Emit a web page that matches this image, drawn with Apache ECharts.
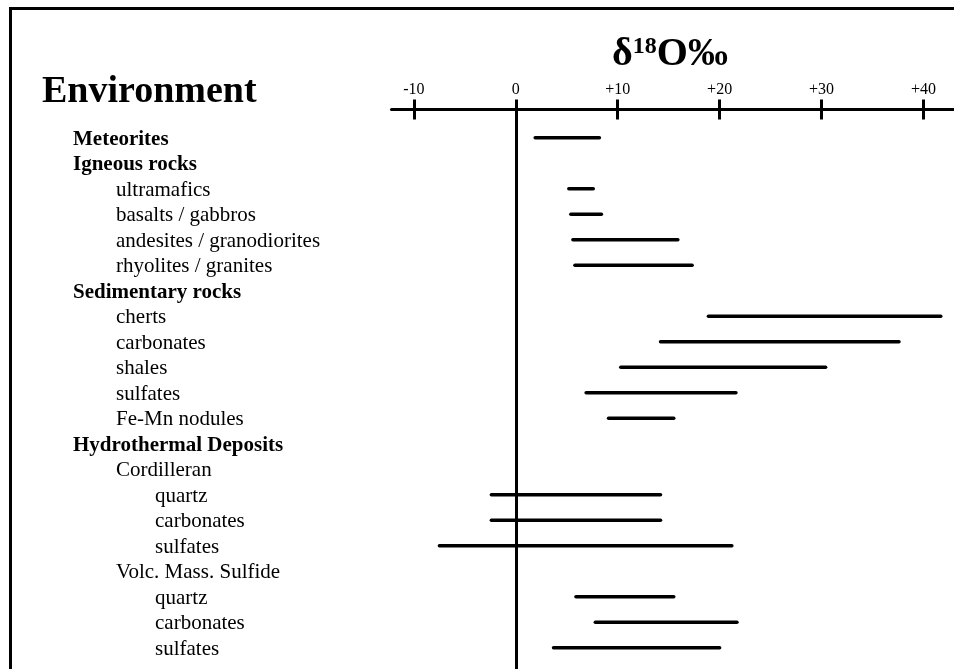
<!DOCTYPE html>
<html>
<head>
<meta charset="utf-8">
<script src="https://cdn.jsdelivr.net/npm/echarts@6/dist/echarts.min.js"></script>
<style>
html,body{margin:0;padding:0;background:#fff;}
#chart{width:954px;height:669px;}
</style>
</head>
<body>
<div id="chart"></div>
<script>
// ---- data ----
const categories = ['Meteorites','Igneous rocks','ultramafics','basalts / gabbros','andesites / granodiorites','rhyolites / granites','Sedimentary rocks','cherts','carbonates','shales','sulfates','Fe-Mn nodules','Hydrothermal Deposits','Cordilleran','quartz','carbonates','sulfates','Volc. Mass. Sulfide','quartz','carbonates','sulfates'];
const levels = [0,0,1,1,1,1,0,1,1,1,1,1,0,1,2,2,2,1,2,2,2];
const headings = [true,true,false,false,false,false,true,false,false,false,false,false,true,false,false,false,false,false,false,false,false];
const rangeLow  = [1.9, null, 5.2, 5.4, 5.6, 5.8, null, 18.9, 14.2, 10.3, 6.9, 9.1, null, null, -2.4, -2.4, -7.5, null, 5.9, 7.8, 3.7];
const rangeHigh = [8.2, null, 7.6, 8.4, 15.9, 17.3, null, 41.7, 37.6, 30.4, 21.6, 15.5, null, null, 14.2, 14.2, 21.2, null, 15.5, 21.7, 20.0];
const tickValues = [-10, 0, 10, 20, 30, 40];
const leftTitle = 'Environment';

// ---- build ----
const FONT = 'Liberation Serif';
const seriesData = [];
categories.forEach((c, i) => {
  if (rangeLow[i] !== null && rangeHigh[i] !== null) seriesData.push([rangeLow[i], rangeHigh[i], i]);
});
const rowIdx = categories.map((_, i) => i);

const chart = echarts.init(document.getElementById('chart'), null, {renderer: 'canvas'});
const option = {
  backgroundColor: '#fff',
  animation: false,
  grid: {left: 391.5, top: 109.5, width: 565, height: 559.5, containLabel: false},
  xAxis: [{
    type: 'value', position: 'top', min: -12.2, max: 43,
    axisLine: {show: true, onZero: false, lineStyle: {color: '#000', width: 3}},
    axisTick: {show: true, customValues: tickValues, length: 10, lineStyle: {color: '#000', width: 3}},
    axisLabel: {customValues: tickValues, color: '#000', fontFamily: FONT, fontSize: 16, margin: 12,
      formatter: v => (v > 0 ? '+' + v : String(v))},
    splitLine: {show: false}
  }, {
    type: 'value', position: 'top', min: -12.2, max: 43,
    axisLine: {show: false, onZero: false},
    axisTick: {show: true, inside: true, customValues: tickValues, length: 10, lineStyle: {color: '#000', width: 3}},
    axisLabel: {show: false},
    splitLine: {show: false}
  }],
  yAxis: {
    type: 'value', inverse: true, min: -1.106, max: 20.835,
    axisLine: {show: false, onZero: false}, axisTick: {show: false}, splitLine: {show: false},
    axisLabel: {
      customValues: rowIdx, align: 'left', margin: 319.5, color: '#000',
      formatter: v => {
        const i = Math.round(v);
        const key = headings[i] ? 'h' + levels[i] : 'r' + levels[i];
        return '{' + key + '|' + categories[i] + '}';
      },
      rich: {
        h0: {fontFamily: FONT, fontSize: 21, fontWeight: 'bold', color: '#000', padding: [3, 0, 0, 1]},
        r1: {fontFamily: FONT, fontSize: 21, color: '#000', padding: [3, 0, 0, 44]},
        r2: {fontFamily: FONT, fontSize: 21, color: '#000', padding: [3, 0, 0, 83]}
      }
    }
  },
  graphic: [
    {type: 'polyline', silent: true, shape: {points: [[10.5, 680], [10.5, 8.5], [970, 8.5]]},
     style: {stroke: '#000', lineWidth: 3, fill: null}},
    {type: 'text', x: 42, y: 92.5, silent: true,
     style: {text: leftTitle, font: 'bold 38px "Liberation Serif"', fill: '#000',
       align: 'left', textAlign: 'left', verticalAlign: 'middle', textVerticalAlign: 'middle'}},
    {type: 'text', x: 670, y: 55, silent: true,
     style: {text: '{a|δ}{b|18}{a|O‰}', fill: '#000',
       align: 'center', textAlign: 'center', verticalAlign: 'middle', textVerticalAlign: 'middle',
       rich: {
         a: {fontFamily: FONT, fontSize: 40, fontWeight: 'bold', fill: '#000', color: '#000'},
         b: {fontFamily: FONT, fontSize: 24, fontWeight: 'bold', fill: '#000', color: '#000', verticalAlign: 'top'}
       }}}
  ],
  series: [{
    type: 'custom',
    xAxisIndex: 0, yAxisIndex: 0,
    encode: {x: [0, 1], y: 2},
    data: seriesData,
    renderItem: (params, api) => {
      const p1 = api.coord([api.value(0), api.value(2)]);
      const p2 = api.coord([api.value(1), api.value(2)]);
      return {type: 'line', shape: {x1: p1[0], y1: p1[1], x2: p2[0], y2: p2[1]},
        style: {stroke: '#000', lineWidth: 3.5, lineCap: 'round'}};
    },
    markLine: {
      silent: true, symbol: ['none', 'none'], label: {show: false},
      lineStyle: {color: '#000', width: 3, type: 'solid'},
      data: [{xAxis: 0}]
    }
  }]
};
chart.setOption(option);
</script>
</body>
</html>
